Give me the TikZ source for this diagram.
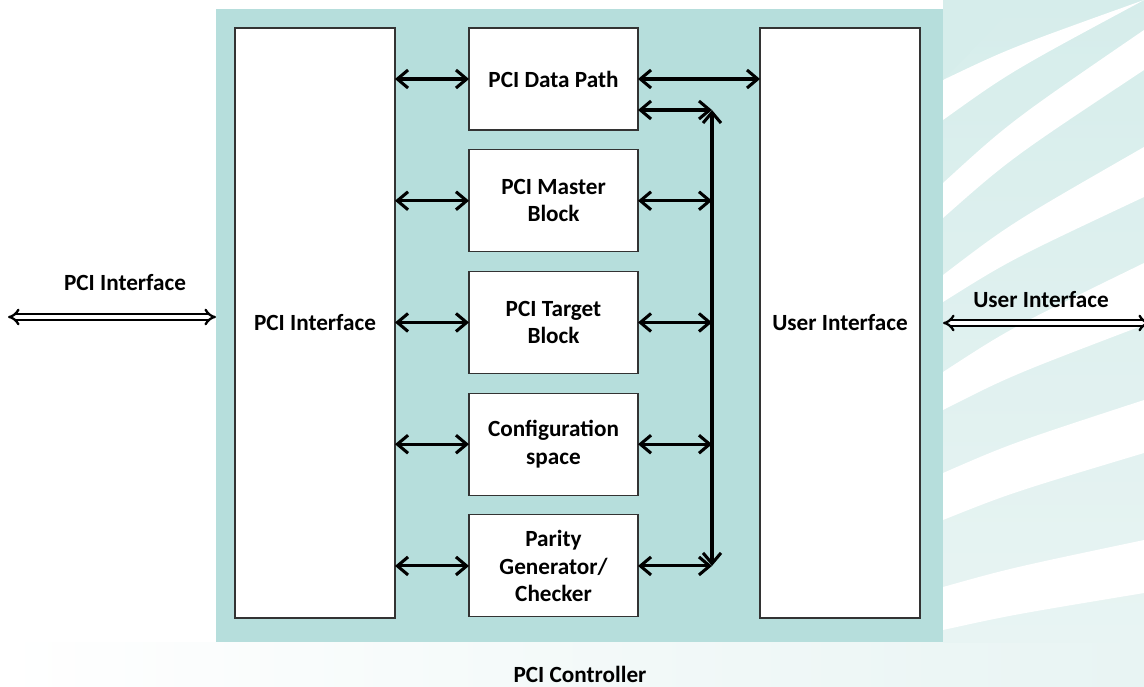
\documentclass[tikz,border=0pt]{standalone}
\usepackage{fontspec}
\setmainfont{Carlito}
\usetikzlibrary{arrows.meta,positioning}
\definecolor{ctrlbg}{HTML}{B6DEDC}
\definecolor{stripe}{HTML}{D6EDEB}
\definecolor{stripelt}{HTML}{E8F4F3}

\begin{document}
\begin{tikzpicture}[x=0.75pt,y=-0.75pt,node distance=14.8pt,
    font=\fontsize{17.4}{20.5}\selectfont\bfseries,
    block/.style={draw=black!80,line width=0.8pt,fill=white,align=center,
        minimum width=126.75pt,minimum height=76.5pt,inner sep=2pt,outer sep=0pt},
    tallblock/.style={draw=black!80,line width=0.8pt,fill=white,align=center,
        minimum width=120pt,minimum height=442.5pt,outer sep=0pt},
    link/.style={line width=2.3pt,{Straight Barb[length=8pt,width=13.5pt]}-{Straight Barb[length=8pt,width=13.5pt]}},
    bus/.style={line width=1.7pt,double,double distance=2.4pt,{Implies[length=6pt]}-{Implies[length=6pt]}}]
    \useasboundingbox (0,0) rectangle (1144,686);
    % background stripes
    \shade[left color=white,right color=stripelt] (0,642) rectangle (1144,686);
    \shade[top color=stripe,bottom color=stripelt] (943,0) rectangle (1144,642);
    \foreach \a/\b/\c/\d in {80/0/120/0,183/30/218/70,275/147/302/197,372/263/410/325,473/400/520/453,587/540/630/593}
        \fill[white] (943,\a) .. controls (1010,\a-0.4*\a+0.4*\b) .. (1144,\b)
            -- (1144,\d) .. controls (1010,\c-0.4*\c+0.4*\d) .. (943,\c) -- cycle;
    \fill[stripe] (943,0) -- (1020,0) -- (943,80) -- cycle;
    \fill[ctrlbg] (216,9) rectangle (943,642);

    \node[tallblock] (pciif) at (315,323) {PCI Interface};
    \node[tallblock] (userif) at (840,323) {User Interface};
    \node[block] (datapath) at (553.5,79) {PCI Data Path};
    \node[block] (master) [below=of datapath] {PCI Master\\Block};
    \node[block] (target) [below=of master] {PCI Target\\Block};
    \node[block] (config) [below=of target] {Configuration\\space};
    \node[block] (parity) [below=of config] {Parity\\Generator/\\Checker};

    \coordinate (bustop) at (712,110);
    \coordinate (busbot) at (parity.east -| bustop);
    \coordinate (extl) at (8,317);
    \coordinate (ctrlw) at (216,317);
    \coordinate (ctrle) at (943,323);
    \coordinate (extr) at (1150,323);

    \foreach \b in {datapath,master,target,config,parity}
        \draw[link] (pciif.east |- \b) -- (\b.west);
    \draw[link] (datapath) -- (userif.west |- datapath);
    \draw[link] (datapath.east |- bustop) -- (bustop);
    \foreach \b in {master,target,config,parity}
        \draw[link] (\b.east) -- (bustop |- \b);
    \draw[link] (bustop) -- (busbot);

    \draw[bus] (extl) -- (ctrlw);
    \draw[bus] (ctrle) -- (extr);
    \node (pcilabel) at (125,283) {PCI Interface};
    \node (userlabel) at (1041,300) {User Interface};
    \node (ctrllabel) at (580,674) {PCI Controller};
\end{tikzpicture}
\end{document}
